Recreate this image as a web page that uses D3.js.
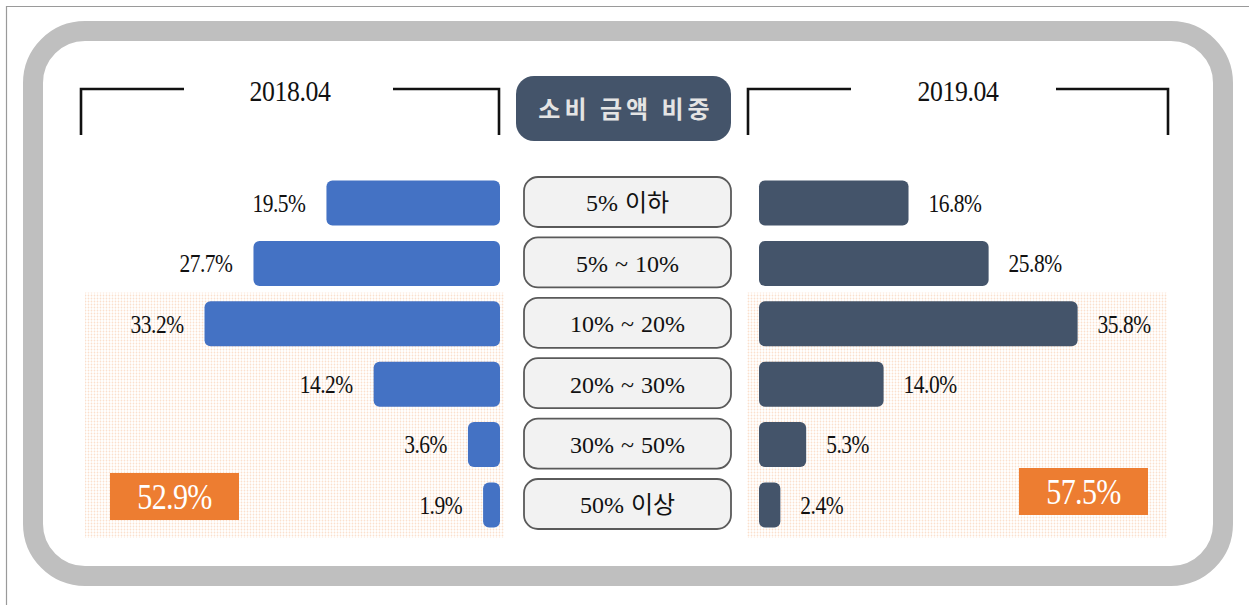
<!DOCTYPE html>
<html>
<head>
<meta charset="utf-8">
<title>소비 금액 비중</title>
<style>
  body { margin: 0; background: #fff; }
  svg { display: block; }
</style>
</head>
<body>
<svg width="1249" height="605"></svg>

<script src="https://d3js.org/d3.v7.min.js"></script>
<script>

    // data
    var categories = ["5% 이하", "5% ~ 10%", "10% ~ 20%", "20% ~ 30%", "30% ~ 50%", "50% 이상"];
    var periods = ["2018.04", "2019.04"];
    var values2018 = [19.5, 27.7, 33.2, 14.2, 3.6, 1.9];
    var values2019 = [16.8, 25.8, 35.8, 14.0, 5.3, 2.4];
    var highlighted = ["10% ~ 20%", "20% ~ 30%", "30% ~ 50%", "50% 이상"];
    var title = "소비 금액 비중";

    var svg = d3.select("svg");

    var serif = "'Liberation Serif', 'Noto Sans CJK KR', serif";
    var gothic = "'Noto Sans CJK KR', sans-serif";

    var leftEdge = 500,   // left bars grow leftwards from here
        rightEdge = 759,  // right bars grow rightwards from here
        barH = 45,
        boxH = 50;

    var x = d3.scaleLinear().domain([0, 40]).range([0, 356]);
    var y = d3.scalePoint().domain(categories).range([202, 504]);
    var step = y.step();

    // the original uses a narrow serif, so squeeze the text horizontally
    function squeeze(sx) {
        return function (d) {
            var px = +this.getAttribute("data-x"), py = +this.getAttribute("data-y");
            return "translate(" + px + "," + py + ") scale(" + sx + ",1)";
        };
    }

    // dotted pattern for the highlighted zone
    var defs = svg.append("defs");
    var pat = defs.append("pattern")
        .attr("id", "dots")
        .attr("width", 3).attr("height", 3)
        .attr("patternUnits", "userSpaceOnUse");
    pat.append("rect").attr("width", 3).attr("height", 3).attr("fill", "#fff");
    pat.append("circle").attr("cx", 1.5).attr("cy", 1.5).attr("r", 0.9)
        .attr("fill", "#f4b183").attr("opacity", 0.4);

    // thin outer border
    svg.append("path")
        .attr("d", "M6.5,610V6.5H1260")
        .attr("fill", "none")
        .attr("stroke", "#9a9a9a")
        .attr("stroke-width", 1.2);

    // thick rounded gray frame
    svg.append("rect")
        .attr("x", 33).attr("y", 31)
        .attr("width", 1190).attr("height", 545)
        .attr("rx", 52)
        .attr("fill", "#fff")
        .attr("stroke", "#bfbfbf")
        .attr("stroke-width", 20);

    // highlighted zones
    var zoneTop = y(highlighted[0]) - step / 2,
        zoneBottom = y(highlighted[highlighted.length - 1]) + 34;
    [[85, 504], [747, 1167]].forEach(function (r) {
        svg.append("rect")
            .attr("x", r[0]).attr("y", zoneTop)
            .attr("width", r[1] - r[0]).attr("height", zoneBottom - zoneTop)
            .attr("fill", "url(#dots)");
    });

    // period headers with brackets
    var headers = [
        { label: periods[0], x0: 81, x1: 499, gap0: 184, gap1: 393 },
        { label: periods[1], x0: 748, x1: 1168, gap0: 851, gap1: 1056 }
    ];
    headers.forEach(function (h) {
        var g = svg.append("g");
        g.append("path")
            .attr("d", "M" + h.x0 + ",135V89H" + h.gap0 + "M" + h.gap1 + ",89H" + h.x1 + "V135")
            .attr("fill", "none")
            .attr("stroke", "#111")
            .attr("stroke-width", 2.6);
        g.append("text")
            .attr("data-x", (h.x0 + h.x1) / 2)
            .attr("data-y", 90)
            .attr("transform", squeeze(0.86))
            .attr("dy", "0.35em")
            .attr("text-anchor", "middle")
            .style("font-family", serif)
            .style("font-size", "30px")
            .style("letter-spacing", "-0.5px")
            .attr("fill", "#111")
            .text(h.label);
    });

    // title box
    svg.append("rect")
        .attr("x", 516).attr("y", 76)
        .attr("width", 215).attr("height", 65)
        .attr("rx", 18)
        .attr("fill", "#44546a");
    svg.append("text")
        .attr("x", 626).attr("y", 110)
        .attr("dy", "0.35em")
        .attr("text-anchor", "middle")
        .style("font-family", gothic)
        .style("font-size", "24px")
        .style("font-weight", "bold")
        .style("letter-spacing", "4px")
        .attr("fill", "#e4e4e4")
        .text(title);

    // category boxes
    var cat = svg.selectAll(".cat")
        .data(categories)
        .enter().append("g")
        .attr("class", "cat");
    cat.append("rect")
        .attr("x", 524)
        .attr("y", function (d) { return y(d) - boxH / 2; })
        .attr("width", 207)
        .attr("height", boxH)
        .attr("rx", 14)
        .attr("fill", "#f2f2f2")
        .attr("stroke", "#5a5a5a")
        .attr("stroke-width", 1.8);
    cat.append("text")
        .attr("x", 627.5)
        .attr("y", function (d) { return y(d) + 1; })
        .attr("dy", "0.35em")
        .attr("text-anchor", "middle")
        .style("font-family", serif)
        .style("font-size", "24px")
        .style("word-spacing", "1px")
        .attr("fill", "#111")
        .text(function (d) { return d; });

    // left bars (2018.04)
    var left = svg.selectAll(".left")
        .data(values2018)
        .enter().append("g")
        .attr("class", "left");
    left.append("rect")
        .attr("x", function (d) { return leftEdge - x(d); })
        .attr("y", function (d, i) { return y(categories[i]) - barH / 2 + 1; })
        .attr("width", function (d) { return x(d); })
        .attr("height", barH)
        .attr("rx", 6)
        .attr("fill", "#4472c4");
    left.append("text")
        .attr("data-x", function (d) { return leftEdge - x(d) - 21; })
        .attr("data-y", function (d, i) { return y(categories[i]) + 1; })
        .attr("transform", squeeze(0.86))
        .attr("dy", "0.35em")
        .attr("text-anchor", "end")
        .style("font-family", serif)
        .style("font-size", "25px")
        .style("letter-spacing", "-0.6px")
        .attr("fill", "#111")
        .text(function (d) { return d.toFixed(1) + "%"; });

    // right bars (2019.04)
    var right = svg.selectAll(".right")
        .data(values2019)
        .enter().append("g")
        .attr("class", "right");
    right.append("rect")
        .attr("x", rightEdge)
        .attr("y", function (d, i) { return y(categories[i]) - barH / 2 + 1; })
        .attr("width", function (d) { return x(d); })
        .attr("height", barH)
        .attr("rx", 6)
        .attr("fill", "#44546a");
    right.append("text")
        .attr("data-x", function (d) { return rightEdge + x(d) + 20; })
        .attr("data-y", function (d, i) { return y(categories[i]) + 1; })
        .attr("transform", squeeze(0.86))
        .attr("dy", "0.35em")
        .style("font-family", serif)
        .style("font-size", "25px")
        .style("letter-spacing", "-0.6px")
        .attr("fill", "#111")
        .text(function (d) { return d.toFixed(1) + "%"; });

    // totals of the highlighted rows
    function zoneTotal(values) {
        return d3.sum(highlighted, function (c) { return values[categories.indexOf(c)]; });
    }
    var totals = [
        { value: zoneTotal(values2018), x: 110, y: 473 },
        { value: zoneTotal(values2019), x: 1019, y: 468 }
    ];
    var tot = svg.selectAll(".total")
        .data(totals)
        .enter().append("g")
        .attr("class", "total");
    tot.append("rect")
        .attr("x", function (d) { return d.x; })
        .attr("y", function (d) { return d.y; })
        .attr("width", 129)
        .attr("height", 47)
        .attr("fill", "#ed7d31");
    tot.append("text")
        .attr("data-x", function (d) { return d.x + 64.5; })
        .attr("data-y", function (d) { return d.y + 24; })
        .attr("transform", squeeze(0.86))
        .attr("dy", "0.35em")
        .attr("text-anchor", "middle")
        .style("font-family", serif)
        .style("font-size", "35px")
        .style("letter-spacing", "-0.8px")
        .attr("fill", "#fff")
        .text(function (d) { return d.value.toFixed(1) + "%"; });

</script>
</body>
</html>
